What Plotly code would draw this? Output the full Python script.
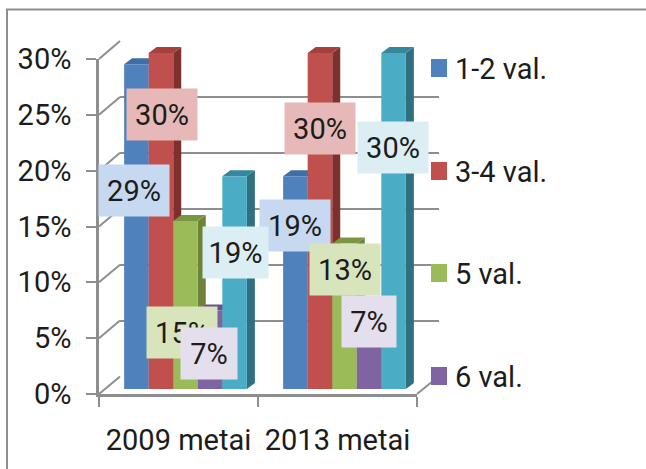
import plotly.graph_objects as go

# ---------- data ----------
categories = ["2009 metai", "2013 metai"]
series_names = ["1-2 val.", "3-4 val.", "5 val.", "6 val.", ""]
values_12 = [29, 19]
values_34 = [30, 30]
values_5 = [15, 13]
values_6 = [7, 7]
values_7 = [19, 30]
series_values = [values_12, values_34, values_5, values_6, values_7]
y_ticks = [0, 5, 10, 15, 20, 25, 30]

# ---------- style ----------
W, H = 646, 469
FRONT = ["#4F81BD", "#C0504D", "#9BBB59", "#8064A2", "#4BACC6"]
SIDE = ["#39618F", "#7F302E", "#6B8439", "#5A4576", "#2F6F80"]
TOP = ["#3F6EA6", "#A5403D", "#7A9640", "#6A5289", "#35879C"]
LABEL_BG = ["#C6D9F1", "#E6B9B8", "#D8E4BC", "#E4DFEC", "#DAEEF3"]
GREY = "#8E8E8E"
FONT = "Roboto, Noto Sans, sans-serif"
FS = 29
TXT = "#1c1c1c"
DEPTH_X, DEPTH_Y = 8, 6
# label box centres and widths, in pixels
LABEL_POS = [
    [(134, 190.5, 70), (295, 226, 70)],
    [(161.5, 114, 70), (319.5, 128, 70)],
    [(182, 332, 70), (345, 269, 70)],
    [(209, 353, 56), (369, 321, 54)],
    [(235.5, 252, 65), (393, 147, 70)],
]
LEGEND_Y = [68, 171, 273, 376]


def px(x):
    return x / W


def py(y):
    return 1 - y / H


# front axis, back wall, bars: three offset planes
X0, X1 = 99, 417
Y0, Y30 = 394, 59
BX0, BX1 = 120, 438.5
BY0, BY30 = 376.5, 41
SX0, SX1 = 106, 424
SY0 = 389
SCALE = 11.2
YMAX_BAR = 32
BAR_GAP = 0.228

fig = go.Figure()

# empty traces keep the front axes and the back-wall grid on the page
fig.add_trace(go.Scatter(x=[None], y=[None], xaxis="x", yaxis="y", showlegend=False, hoverinfo="skip"))
fig.add_trace(go.Scatter(x=[None], y=[None], xaxis="x2", yaxis="y2", showlegend=False, hoverinfo="skip"))

for name, vals, col in zip(series_names, series_values, FRONT):
    fig.add_trace(go.Bar(x=[0, 1], y=vals, name=name or "-", marker=dict(color=col, line=dict(width=0)),
                         xaxis="x3", yaxis="y3", showlegend=False, hoverinfo="skip"))

shapes = []
# frame
shapes.append(dict(type="line", xref="paper", yref="paper", x0=px(7), x1=px(7), y0=py(9), y1=py(469),
                   line=dict(color=GREY, width=2), layer="below"))
shapes.append(dict(type="line", xref="paper", yref="paper", x0=px(6), x1=1, y0=py(9.5), y1=py(9.5),
                   line=dict(color=GREY, width=2), layer="below"))
# floor and wall diagonals
for v in y_ticks:
    fy = Y0 + (Y30 - Y0) * v / 30
    by = BY0 + (BY30 - BY0) * v / 30
    shapes.append(dict(type="line", xref="paper", yref="paper", x0=px(X0), x1=px(BX0), y0=py(fy), y1=py(by),
                       line=dict(color=GREY, width=2), layer="below"))
shapes.append(dict(type="line", xref="paper", yref="paper", x0=px(X1), x1=px(BX1), y0=py(Y0), y1=py(BY0),
                   line=dict(color=GREY, width=2), layer="below"))

# 3-D side and top faces, from the values
unit_px = (SX1 - SX0) / 2
group = 1 - BAR_GAP
bw = group / len(series_values)
dx = DEPTH_X / unit_px
dy = DEPTH_Y / SCALE
for c in range(2):
    for s, vals in enumerate(series_values):
        left = c - group / 2 + s * bw
        right = left + bw
        v = vals[c]
        shapes.append(dict(type="path", xref="x3", yref="y3", layer="below", line=dict(width=0),
                           fillcolor=SIDE[s],
                           path=f"M{right},0 L{right + dx},{dy} L{right + dx},{v + dy} L{right},{v} Z"))
        shapes.append(dict(type="path", xref="x3", yref="y3", layer="below", line=dict(width=0),
                           fillcolor=TOP[s],
                           path=f"M{left},{v} L{left + dx},{v + dy} L{right + dx},{v + dy} L{right},{v} Z"))

# legend swatches and text
annotations = []
for name, col, ly in zip(series_names[:4], FRONT[:4], LEGEND_Y):
    shapes.append(dict(type="rect", xref="paper", yref="paper", x0=px(431), x1=px(447), y0=py(ly - 9), y1=py(ly + 9),
                       fillcolor=col, line=dict(width=0), layer="above"))
    annotations.append(dict(xref="paper", yref="paper", x=px(453), y=py(ly + 1), text=name, showarrow=False,
                            xanchor="left", yanchor="middle", font=dict(family=FONT, size=FS, color=TXT)))

# data labels
for s, vals in enumerate(series_values):
    for c, v in enumerate(vals):
        cx, cy, w = LABEL_POS[s][c]
        annotations.append(dict(xref="paper", yref="paper", x=px(cx), y=py(cy), text=f"{v}%", showarrow=False,
                                xanchor="center", yanchor="middle", width=w - 4, height=47, borderpad=2,
                                bgcolor=LABEL_BG[s], align="center",
                                font=dict(family=FONT, size=FS, color=TXT)))

hidden = dict(visible=False, fixedrange=True, automargin=False)
fig.update_layout(
    width=W, height=H, autosize=False,
    margin=dict(l=0, r=0, t=0, b=0, autoexpand=False),
    paper_bgcolor="white", plot_bgcolor="rgba(0,0,0,0)",
    showlegend=False, barmode="group", bargap=BAR_GAP, bargroupgap=0,
    shapes=shapes, annotations=annotations,
    xaxis=dict(domain=[px(X0), px(X1)], range=[-0.5, 1.5], tickmode="array", tickvals=[0, 1], ticktext=categories,
               ticks="", showgrid=False, zeroline=False, showline=True, linecolor=GREY, linewidth=2.5,
               ticklabelstandoff=18, tickfont=dict(family=FONT, size=FS, color=TXT), anchor="y", automargin=False,
               minor=dict(tickmode="array", tickvals=[-0.5, 0.5, 1.5], ticks="outside", ticklen=10,
                          tickwidth=2, tickcolor=GREY, showgrid=False)),
    yaxis=dict(domain=[py(Y0), py(Y30)], range=[0, 30], tickmode="array", tickvals=y_ticks,
               ticktext=[f"{t}%" for t in y_ticks], ticks="outside", ticklen=10, tickwidth=2, tickcolor=GREY,
               showgrid=False, zeroline=False, showline=True, linecolor=GREY, linewidth=2.5, ticklabelstandoff=9,
               tickfont=dict(family=FONT, size=FS, color=TXT), anchor="x", automargin=False),
    xaxis2=dict(domain=[px(BX0), px(BX1)], range=[-0.5, 1.5], anchor="y2", **hidden),
    yaxis2=dict(domain=[py(BY0), py(BY30)], range=[0, 30], anchor="x2", tickmode="array",
                tickvals=y_ticks, showgrid=True, gridcolor=GREY, gridwidth=2, zeroline=False,
                showticklabels=False, ticks="", showline=False, fixedrange=True, automargin=False),
    xaxis3=dict(domain=[px(SX0), px(SX1)], range=[-0.5, 1.5], anchor="y3", **hidden),
    yaxis3=dict(domain=[py(SY0), py(SY0 - YMAX_BAR * SCALE)], range=[0, YMAX_BAR], anchor="x3", **hidden),
)

fig.write_html("out.html", config=dict(displayModeBar=False),
               post_script="document.body.style.margin='0';")
